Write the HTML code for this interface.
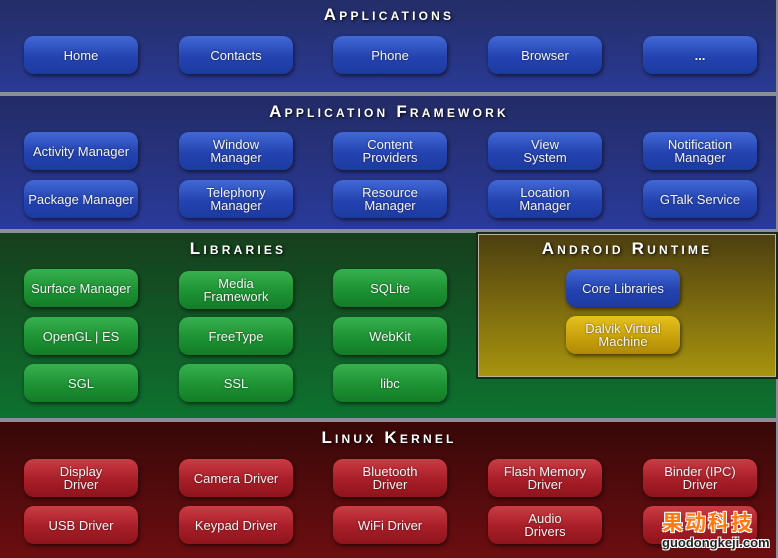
<!DOCTYPE html>
<html><head><meta charset="utf-8"><style>
*{margin:0;padding:0;box-sizing:border-box}
body{width:778px;height:558px;position:relative;overflow:hidden;background:#8a8f99;font-family:"Liberation Sans","Noto Sans CJK SC",sans-serif}
.band{position:absolute;left:0;width:776px}
.t{position:absolute;color:#fff;font-weight:bold;font-size:17px;letter-spacing:3.2px;font-variant:small-caps;text-shadow:1px 1px 3px #000;text-align:center;white-space:nowrap;line-height:18px}
.b{position:absolute;width:114px;height:38px;border-radius:10px;color:#f4f4f4;font-size:13px;line-height:13px;display:flex;align-items:center;justify-content:center;text-align:center;box-shadow:1px 2px 4px rgba(0,0,0,.6);text-shadow:0 0 2px rgba(0,0,0,.5)}
.bl{background:linear-gradient(#4169d6,#2443b0 55%,#1d3aa0)}
.gr{background:linear-gradient(#39b04f,#1d9234 55%,#137c28)}
.rd{background:linear-gradient(#cc3c44,#a71e28 55%,#8e141c)}
.yl{background:linear-gradient(#e6c21e,#c8a10c 55%,#b08a06)}
</style></head><body>
<div class="band" style="top:0;height:92px;background:linear-gradient(#242d66,#2a3a95)"></div>
<div class="band" style="top:96px;height:133px;background:linear-gradient(#232c66,#2a3a9a)"></div>
<div class="band" style="top:233px;height:185px;background:linear-gradient(#163f1c,#0e7230)"></div>
<div style="position:absolute;left:476px;top:232px;width:302px;height:147px;background:#1a2a1a;padding:2px"><div style="width:100%;height:100%;border:1px solid #b9b49a;background:linear-gradient(#4d3f10,#a8940e)"></div></div>
<div class="band" style="top:422px;height:136px;background:linear-gradient(#380808,#6c0e10)"></div>

<div class="t" style="left:0;width:778px;top:6px">Applications</div>
<div class="t" style="left:0;width:778px;top:103px">Application Framework</div>
<div class="t" style="left:120px;width:236px;top:240px">Libraries</div>
<div class="t" style="left:476px;width:302px;top:240px">Android Runtime</div>
<div class="t" style="left:0;width:778px;top:429px">Linux Kernel</div>

<div class="b bl" style="left:24px;top:36px">Home</div>
<div class="b bl" style="left:179px;top:36px">Contacts</div>
<div class="b bl" style="left:333px;top:36px">Phone</div>
<div class="b bl" style="left:488px;top:36px">Browser</div>
<div class="b bl" style="left:643px;top:36px;font-weight:bold">...</div>

<div class="b bl" style="left:24px;top:132px">Activity Manager</div>
<div class="b bl" style="left:179px;top:132px">Window<br>Manager</div>
<div class="b bl" style="left:333px;top:132px">Content<br>Providers</div>
<div class="b bl" style="left:488px;top:132px">View<br>System</div>
<div class="b bl" style="left:643px;top:132px">Notification<br>Manager</div>
<div class="b bl" style="left:24px;top:180px">Package Manager</div>
<div class="b bl" style="left:179px;top:180px">Telephony<br>Manager</div>
<div class="b bl" style="left:333px;top:180px">Resource<br>Manager</div>
<div class="b bl" style="left:488px;top:180px">Location<br>Manager</div>
<div class="b bl" style="left:643px;top:180px">GTalk Service</div>

<div class="b gr" style="left:24px;top:269px">Surface Manager</div>
<div class="b gr" style="left:179px;top:271px">Media<br>Framework</div>
<div class="b gr" style="left:333px;top:269px">SQLite</div>
<div class="b gr" style="left:24px;top:317px">OpenGL | ES</div>
<div class="b gr" style="left:179px;top:317px">FreeType</div>
<div class="b gr" style="left:333px;top:317px">WebKit</div>
<div class="b gr" style="left:24px;top:364px">SGL</div>
<div class="b gr" style="left:179px;top:364px">SSL</div>
<div class="b gr" style="left:333px;top:364px">libc</div>

<div class="b bl" style="left:566px;top:269px">Core Libraries</div>
<div class="b yl" style="left:566px;top:316px">Dalvik Virtual<br>Machine</div>

<div class="b rd" style="left:24px;top:459px">Display<br>Driver</div>
<div class="b rd" style="left:179px;top:459px">Camera Driver</div>
<div class="b rd" style="left:333px;top:459px">Bluetooth<br>Driver</div>
<div class="b rd" style="left:488px;top:459px">Flash Memory<br>Driver</div>
<div class="b rd" style="left:643px;top:459px">Binder (IPC)<br>Driver</div>
<div class="b rd" style="left:24px;top:506px">USB Driver</div>
<div class="b rd" style="left:179px;top:506px">Keypad Driver</div>
<div class="b rd" style="left:333px;top:506px">WiFi Driver</div>
<div class="b rd" style="left:488px;top:506px">Audio<br>Drivers</div>
<div class="b rd" style="left:643px;top:506px"></div>

<div style="position:absolute;left:662px;top:510px;color:#ff7a10;font-size:21px;font-weight:bold;letter-spacing:2px;font-family:'Noto Sans CJK SC',sans-serif;text-shadow:1px 1px 0 #fff,-1px -1px 0 #fff,1px -1px 0 #fff,-1px 1px 0 #fff;line-height:24px">果动科技</div>
<div style="position:absolute;left:662px;top:535px;color:#222;font-size:13px;font-weight:bold;text-shadow:1px 1px 0 #fff,-1px -1px 0 #fff,1px -1px 0 #fff,-1px 1px 0 #fff">guodongkeji.com</div>
</body></html>
